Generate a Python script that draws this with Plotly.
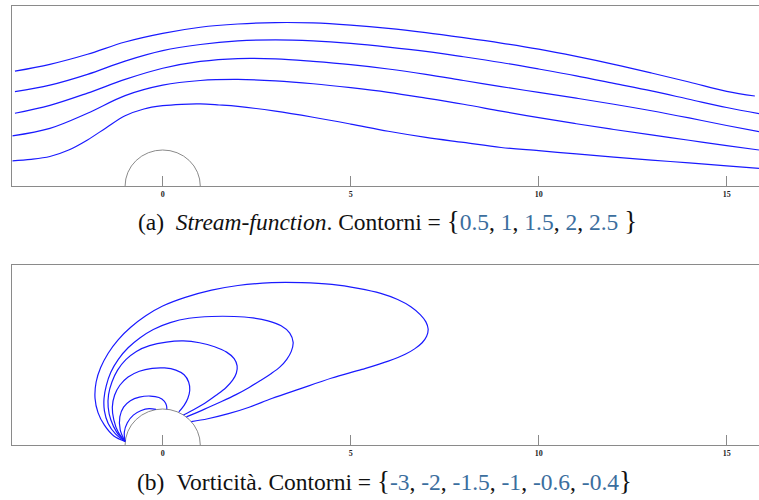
import plotly.graph_objects as go

# ---------------- data ----------------
# (a) stream-function contours (psi levels)
PSI_LEVELS = [0.5, 1, 1.5, 2, 2.5]
psi05_x = [-4.0, -3.5, -3.0, -2.5, -2.0, -1.5, -1.0, -0.5, 0.0, 0.5, 1.0, 1.5, 2.0, 3.0, 4.0, 5.0, 6.0,
           7.0, 8.0, 9.0, 10.0, 11.0, 12.0, 13.0, 14.0, 15.0, 15.86]
psi05_y = [0.70, 0.74, 0.82, 1.00, 1.28, 1.62, 1.95, 2.14, 2.23, 2.27, 2.28, 2.25, 2.21, 2.08, 1.91, 1.72, 1.52,
           1.35, 1.21, 1.07, 0.98, 0.89, 0.80, 0.72, 0.64, 0.56, 0.49]
psi10_x = [-4.0, -3.0, -2.0, -1.0, 0.0, 1.0, 2.0, 3.0, 4.0, 5.0, 6.0, 7.0, 8.0, 9.0, 10.0, 11.0, 12.0, 13.0,
           14.0, 15.0, 15.86]
psi10_y = [1.39, 1.60, 2.02, 2.51, 2.80, 2.93, 2.96, 2.92, 2.84, 2.73, 2.60, 2.44, 2.27, 2.08, 1.90, 1.73, 1.57,
           1.42, 1.27, 1.12, 1.00]
psi15_x = [-3.93, -3.0, -2.0, -1.0, 0.0, 1.0, 2.0, 3.0, 4.0, 5.0, 6.0, 7.0, 8.0, 9.0, 10.0, 11.0, 12.0, 13.0,
           14.0, 15.0, 15.86]
psi15_y = [2.02, 2.24, 2.58, 2.96, 3.27, 3.46, 3.54, 3.53, 3.46, 3.37, 3.25, 3.10, 2.93, 2.76, 2.60, 2.44, 2.27,
           2.09, 1.89, 1.68, 1.51]
psi20_x = [-3.93, -3.0, -2.0, -1.0, 0.0, 1.0, 2.0, 3.0, 4.0, 5.0, 6.0, 7.0, 8.0, 9.0, 10.0, 11.0, 12.0, 13.0,
           14.0, 15.0, 15.86]
psi20_y = [2.62, 2.80, 3.10, 3.47, 3.76, 3.93, 4.03, 4.06, 4.03, 3.96, 3.86, 3.74, 3.59, 3.43, 3.25, 3.06, 2.85,
           2.64, 2.41, 2.18, 2.01]
psi25_x = [-3.93, -3.0, -2.0, -1.0, 0.0, 1.0, 2.0, 3.0, 4.0, 5.0, 6.0, 7.0, 8.0, 9.0, 10.0, 11.0, 12.0, 13.0,
           14.0, 15.0, 15.75]
psi25_y = [3.19, 3.38, 3.66, 4.00, 4.24, 4.41, 4.50, 4.54, 4.53, 4.47, 4.38, 4.26, 4.12, 3.97, 3.80, 3.60, 3.38,
           3.14, 2.89, 2.63, 2.50]

# (b) vorticity contours (omega levels)
OMEGA_LEVELS = [-3, -2, -1.5, -1, -0.6, -0.4]
om30_x = [-1.00, -1.02, -0.94, -0.78, -0.57, -0.36, -0.18]
om30_y = [0.10, 0.36, 0.62, 0.83, 0.96, 1.01, 0.99]
om20_x = [-1.00, -1.13, -1.14, -1.04, -0.86, -0.62, -0.33, -0.10, 0.04, 0.10, 0.11]
om20_y = [0.10, 0.42, 0.78, 1.05, 1.23, 1.33, 1.36, 1.32, 1.22, 1.10, 0.99]
om15_x = [-1.00, -1.18, -1.30, -1.34, -1.28, -1.14, -0.92, -0.62, -0.28, 0.05, 0.35, 0.57, 0.69, 0.72, 0.67,
          0.57, 0.43]
om15_y = [0.10, 0.35, 0.70, 1.05, 1.38, 1.66, 1.89, 2.05, 2.13, 2.14, 2.08, 1.95, 1.75, 1.52, 1.30,
          1.10, 0.92]
om10_x = [-1.00, -1.22, -1.38, -1.45, -1.44, -1.35, -1.20, -0.98, -0.70, -0.35, 0.10, 0.55, 0.98, 1.38, 1.70,
          1.90, 1.98, 1.96, 1.86, 1.68, 1.42, 1.12, 0.82, 0.55]
om10_y = [0.10, 0.35, 0.70, 1.05, 1.40, 1.75, 2.08, 2.37, 2.60, 2.76, 2.86, 2.89, 2.84, 2.73, 2.58,
          2.40, 2.20, 2.00, 1.80, 1.59, 1.38, 1.16, 0.98, 0.835]
om06_x = [-1.00, -1.25, -1.45, -1.55, -1.56, -1.50, -1.38, -1.18, -0.92, -0.60, -0.25, 0.20, 0.70, 1.30, 1.90,
          2.40, 2.80, 3.15, 3.38, 3.47, 3.42, 3.30, 3.12, 2.88, 2.60, 2.30, 1.95, 1.55, 1.10, 0.63]
om06_y = [0.10, 0.30, 0.60, 0.95, 1.30, 1.65, 2.02, 2.38, 2.70, 2.98, 3.21, 3.40, 3.52, 3.57, 3.57,
          3.53, 3.45, 3.31, 3.11, 2.85, 2.60, 2.38, 2.17, 1.98, 1.79, 1.60, 1.40, 1.20, 0.99, 0.78]
om04_x = [-1.00, -1.30, -1.55, -1.72, -1.80, -1.77, -1.65, -1.45, -1.18, -0.85, -0.45, 0.00, 0.60, 1.30, 2.00,
          2.90, 3.70, 4.50, 5.20, 5.80, 6.25, 6.60, 6.85, 7.00, 7.06, 7.02, 6.90, 6.70, 6.45, 6.00, 5.30, 4.50,
          3.65, 2.90, 2.30, 1.75, 1.20, 0.76]
om04_y = [0.10, 0.25, 0.55, 0.90, 1.30, 1.75, 2.15, 2.55, 2.93, 3.27, 3.59, 3.86, 4.10, 4.30, 4.43,
          4.51, 4.51, 4.46, 4.35, 4.21, 4.04, 3.84, 3.62, 3.42, 3.22, 3.02, 2.84, 2.67, 2.52, 2.33, 2.10, 1.86,
          1.56, 1.29, 1.05, 0.87, 0.73, 0.65]

# cylinder and axes
CYL_CENTER = [0.0, 0.0]
CYL_RADIUS = 1.0
X_RANGE = [-4.0, 15.86]
Y_RANGE = [0.0, 5.0]
X_TICKS = [0, 5, 10, 15]
X_TICK_LABELS = ["0", "5", "10", "15"]

# ---------------- figure ----------------
BLUE = "#1a1aff"
GRAY = "#8a8a8a"
NUMC = "#3b6e9e"

fig = go.Figure()

psi_sets = [(psi05_x, psi05_y), (psi10_x, psi10_y), (psi15_x, psi15_y), (psi20_x, psi20_y), (psi25_x, psi25_y)]
for (xs, ys), lev in zip(psi_sets, PSI_LEVELS):
    fig.add_trace(go.Scatter(x=xs, y=ys, mode="lines", name=f"psi={lev}",
                             line=dict(color=BLUE, width=1.2, shape="spline", smoothing=1.0),
                             xaxis="x", yaxis="y", showlegend=False, hoverinfo="skip"))

om_sets = [(om30_x, om30_y), (om20_x, om20_y), (om15_x, om15_y), (om10_x, om10_y), (om06_x, om06_y), (om04_x, om04_y)]
for (xs, ys), lev in zip(om_sets, OMEGA_LEVELS):
    fig.add_trace(go.Scatter(x=xs, y=ys, mode="lines", name=f"omega={lev}",
                             line=dict(color=BLUE, width=1.2, shape="spline", smoothing=1.0),
                             xaxis="x2", yaxis="y2", showlegend=False, hoverinfo="skip"))

W, H = 759, 500
left_px = 12.3
xdom = [left_px / W, 1.0]

def axis_x(domain_anchor):
    return dict(domain=xdom, range=X_RANGE, anchor=domain_anchor,
                showline=True, linecolor=GRAY, linewidth=1, mirror=True,
                showgrid=False, zeroline=False,
                ticks="inside", ticklen=10, tickwidth=1, tickcolor=GRAY,
                tickvals=X_TICKS, ticktext=X_TICK_LABELS,
                tickfont=dict(family="Liberation Serif", size=8, color="#222", weight="bold"))

def axis_y(dom, anchor):
    return dict(domain=dom, range=Y_RANGE, anchor=anchor,
                showline=True, linecolor=GRAY, linewidth=1, mirror=False,
                showgrid=False, zeroline=False, showticklabels=False, ticks="")

shapes = []
for xr, yr in [("x", "y"), ("x2", "y2")]:
    shapes.append(dict(type="circle", xref=xr, yref=yr,
                       x0=CYL_CENTER[0] - CYL_RADIUS, x1=CYL_CENTER[0] + CYL_RADIUS,
                       y0=CYL_CENTER[1] - CYL_RADIUS, y1=CYL_CENTER[1] + CYL_RADIUS,
                       line=dict(color=GRAY, width=1), layer="below"))

def num(s):
    return f"<span style='color:{NUMC}'>{s}</span>"

def brace(s):
    return f"<span style='font-size:27px'>{s}</span>"

cap_a = ("(a)&nbsp;&nbsp;<i>Stream-function</i>. Contorni = " + brace("{")
         + ", ".join(num(str(v)) for v in PSI_LEVELS) + " " + brace("}"))
cap_b = ("(b)&nbsp;&nbsp;Vorticità. Contorni = " + brace("{")
         + ", ".join(num(str(v)) for v in OMEGA_LEVELS) + brace("}"))

fig.update_layout(
    width=W, height=H,
    margin=dict(l=0, r=0, t=0, b=0),
    paper_bgcolor="white", plot_bgcolor="white",
    xaxis=axis_x("y"),
    yaxis=axis_y([1 - 186 / H, 1 - 6 / H], "x"),
    xaxis2=axis_x("y2"),
    yaxis2=axis_y([1 - 445 / H, 1 - 265 / H], "x2"),
    shapes=shapes,
    annotations=[
        dict(text=cap_a, x=387 / W, y=1 - 221 / H, xref="paper", yref="paper",
             showarrow=False, xanchor="center", yanchor="middle",
             font=dict(family="Liberation Serif", size=23.5, color="#111")),
        dict(text=cap_b, x=384.5 / W, y=1 - 481 / H, xref="paper", yref="paper",
             showarrow=False, xanchor="center", yanchor="middle",
             font=dict(family="Liberation Serif", size=23.5, color="#111")),
    ],
)

fig.write_html("out.html")
